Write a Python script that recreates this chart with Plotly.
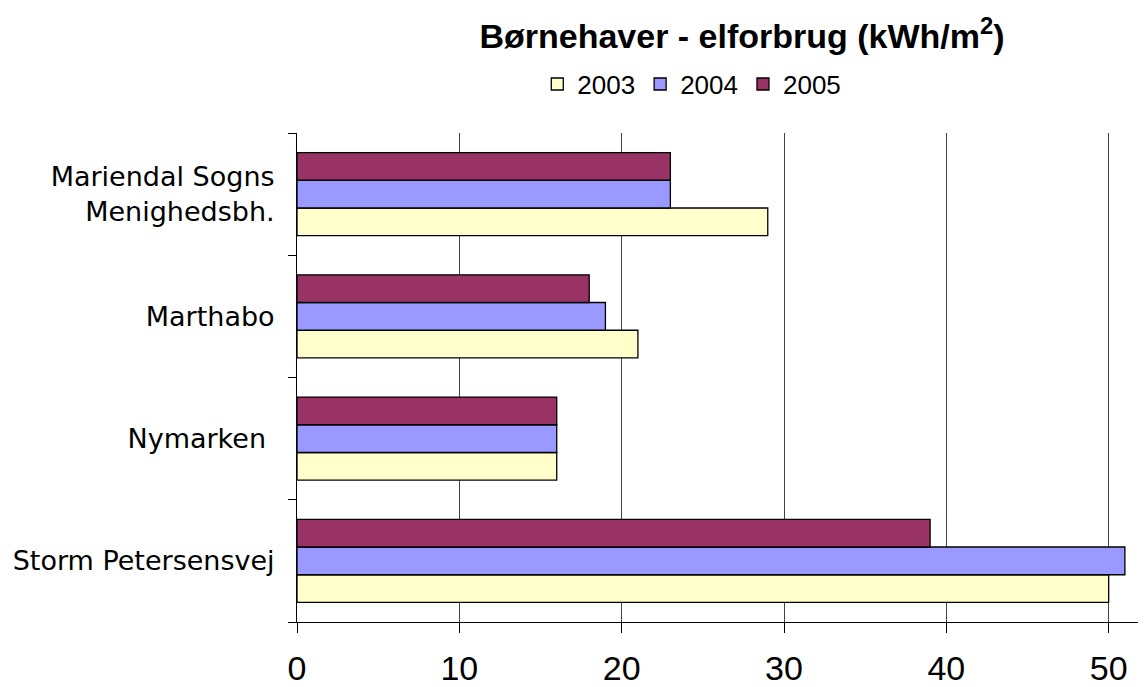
import plotly.graph_objects as go

# categories listed bottom -> top (plotly draws the first category at the bottom)
categories = [
    "Storm Petersensvej",
    "Nymarken\u00a0",
    "Marthabo",
    "Mariendal Sogns<br>Menighedsbh.",
]
years = ["2003", "2004", "2005"]
values_2003 = [50, 16, 21, 29]
values_2004 = [51, 16, 19, 23]
values_2005 = [39, 16, 18, 23]
x_ticks = [0, 10, 20, 30, 40, 50]

colors = {"2003": "#FFFFCC", "2004": "#9999FF", "2005": "#993366"}
series = {"2003": values_2003, "2004": values_2004, "2005": values_2005}

fig = go.Figure()
for year in years:
    fig.add_trace(
        go.Bar(
            name=year,
            y=categories,
            x=series[year],
            orientation="h",
            marker=dict(color=colors[year], line=dict(color="black", width=1.3)),
        )
    )

# the page body adds an 8px offset, so the figure is sized to fit the window
fig.update_layout(
    width=1138,
    height=679,
    margin=dict(l=289, r=0, t=125, b=65),
    paper_bgcolor="white",
    plot_bgcolor="white",
    barmode="group",
    bargap=0.32,
    bargroupgap=0,
    title=dict(
        text="Børnehaver - elforbrug (kWh/m<sup>2</sup>)",
        font=dict(family="Liberation Sans, Arial", size=34, color="black", weight="bold"),
        x=0.645,
        xanchor="center",
        yref="container",
        y=0.958,
        yanchor="middle",
    ),
    legend=dict(
        orientation="h",
        x=0.465,
        xanchor="center",
        y=1.10,
        yanchor="middle",
        font=dict(family="Liberation Sans, Arial", size=26, color="black"),
        itemwidth=30,
        traceorder="normal",
    ),
    font=dict(family="DejaVu Sans, Verdana", color="black"),
)

fig.update_xaxes(
    range=[0, 52.3],
    tickvals=x_ticks,
    showgrid=True,
    gridcolor="#444444",
    gridwidth=1,
    showline=True,
    linecolor="black",
    linewidth=1,
    ticks="outside",
    ticklen=10,
    tickcolor="black",
    zeroline=False,
    tickfont=dict(family="Liberation Sans, Arial", size=34, color="black"),
    ticklabelstandoff=6,
    automargin=False,
)
fig.update_yaxes(
    showline=True,
    linecolor="black",
    linewidth=1,
    ticks="outside",
    tickson="boundaries",
    ticklen=8,
    tickcolor="black",
    showgrid=False,
    tickfont=dict(family="DejaVu Sans, Verdana", size=27, color="black"),
    ticklabelstandoff=16,
    automargin=False,
)

fig.write_html("out.html")
